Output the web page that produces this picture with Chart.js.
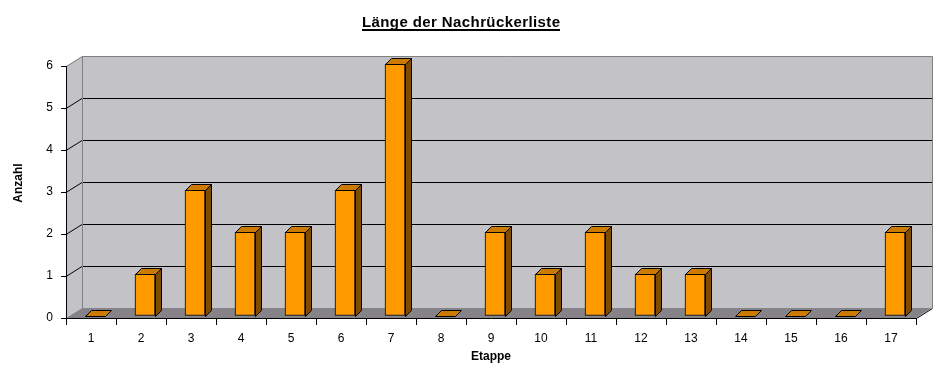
<!DOCTYPE html>
<html>
<head>
<meta charset="utf-8">
<script src="https://cdn.jsdelivr.net/npm/chart.js@4/dist/chart.umd.min.js"></script>
<style>
  html, body { margin: 0; padding: 0; background: #fff; }
  #wrap { width: 944px; height: 372px; }
</style>
</head>
<body>
<div id="wrap"><canvas id="chart" width="944" height="372"></canvas></div>
<script>
const chartTitle = 'Länge der Nachrückerliste';
const xTitle = 'Etappe';
const yTitle = 'Anzahl';
const stages = ['1', '2', '3', '4', '5', '6', '7', '8', '9', '10', '11', '12', '13', '14', '15', '16', '17'];
const counts = [0, 1, 3, 2, 2, 3, 6, 0, 2, 1, 2, 1, 1, 0, 0, 0, 2];
const yTicks = [0, 1, 2, 3, 4, 5, 6];

/* depth of the fake 3d box and of the bars */
const wallDx = 16, wallDy = -10;
const barDepth = 6;
const barShift = { x: 4, y: -2 };

const wallColor = '#c3c2c6';
const floorColor = '#858387';
const edgeColor = '#808080';

/* Draws walls, floor and back gridlines before the axes */
const boxPlugin = {
  id: 'box3d',
  beforeDraw(chart) {
    const { ctx, chartArea: a, scales } = chart;
    const y = scales.y;
    ctx.save();
    // back wall
    ctx.fillStyle = wallColor;
    ctx.fillRect(a.left + wallDx, a.top + wallDy, a.right - a.left, a.bottom - a.top);
    // left wall
    ctx.beginPath();
    ctx.moveTo(a.left, a.bottom);
    ctx.lineTo(a.left, a.top);
    ctx.lineTo(a.left + wallDx, a.top + wallDy);
    ctx.lineTo(a.left + wallDx, a.bottom + wallDy);
    ctx.closePath();
    ctx.fill();
    // floor
    ctx.fillStyle = floorColor;
    ctx.beginPath();
    ctx.moveTo(a.left, a.bottom);
    ctx.lineTo(a.left + wallDx, a.bottom + wallDy);
    ctx.lineTo(a.right + wallDx, a.bottom + wallDy);
    ctx.lineTo(a.right, a.bottom);
    ctx.closePath();
    ctx.fill();

    ctx.lineWidth = 1;
    // gridlines on back + left wall
    ctx.strokeStyle = '#000';
    yTicks.forEach(v => {
      if (v === 0 || v === yTicks[yTicks.length - 1]) return;
      const py = Math.round(y.getPixelForValue(v)) + 0.5;
      ctx.beginPath();
      ctx.moveTo(a.left, py);
      ctx.lineTo(a.left + wallDx, py + wallDy);
      ctx.lineTo(a.right + wallDx, py + wallDy);
      ctx.stroke();
    });
    // right floor edge
    ctx.beginPath();
    ctx.moveTo(a.right + 0.5, a.bottom + 0.5);
    ctx.lineTo(a.right + wallDx + 0.5, a.bottom + wallDy + 0.5);
    ctx.stroke();
    // wall borders
    ctx.strokeStyle = edgeColor;
    const l = a.left + wallDx + 0.5, r = a.right + wallDx + 0.5;
    const t = a.top + wallDy + 0.5, b = a.bottom + wallDy + 0.5;
    ctx.beginPath();
    ctx.moveTo(a.left + 0.5, a.top + 0.5);
    ctx.lineTo(l, t);
    ctx.lineTo(r, t);
    ctx.lineTo(r, b);
    ctx.moveTo(l, t);
    ctx.lineTo(l, b);
    ctx.stroke();
    ctx.restore();
  },
  beforeDatasetsDraw(chart) {
    chart.ctx.save();
    chart.ctx.translate(barShift.x, barShift.y);
  },
  afterDatasetsDraw(chart) {
    const { ctx } = chart;
    const meta = chart.getDatasetMeta(0);
    ctx.lineWidth = 1;
    ctx.strokeStyle = '#000';
    meta.data.forEach(bar => {
      const p = bar.getProps(['x', 'y', 'base', 'width'], true);
      const x0 = Math.round(p.x - p.width / 2) + 0.5;
      const x1 = Math.round(p.x + p.width / 2) + 0.5;
      const top = Math.round(p.y) + 0.5;
      const bot = Math.round(p.base) + 0.5;
      // top face
      ctx.fillStyle = '#cc7a00';
      ctx.beginPath();
      ctx.moveTo(x0, top);
      ctx.lineTo(x0 + barDepth, top - barDepth);
      ctx.lineTo(x1 + barDepth, top - barDepth);
      ctx.lineTo(x1, top);
      ctx.closePath();
      ctx.fill();
      ctx.stroke();
      // side face
      if (bot - top > 0.5) {
        ctx.fillStyle = '#804c00';
        ctx.beginPath();
        ctx.moveTo(x1, top);
        ctx.lineTo(x1 + barDepth, top - barDepth);
        ctx.lineTo(x1 + barDepth, bot - barDepth);
        ctx.lineTo(x1, bot);
        ctx.closePath();
        ctx.fill();
        ctx.stroke();
      }
    });
    ctx.restore();
  },
  afterDraw(chart) {
    const { ctx, chartArea: a } = chart;
    ctx.save();
    ctx.fillStyle = '#000';
    // title with underline
    ctx.font = 'bold 15px "Liberation Sans", Arial, sans-serif';
    ctx.letterSpacing = '0.4px';
    ctx.textAlign = 'left';
    ctx.textBaseline = 'alphabetic';
    const w = ctx.measureText(chartTitle).width;
    const tx = Math.round(461 - w / 2);
    ctx.fillText(chartTitle, tx, 27);
    ctx.fillRect(tx, 29, Math.round(w), 2);
    ctx.letterSpacing = '0px';
    // axis titles
    ctx.textAlign = 'center';
    ctx.font = 'bold 12px "Liberation Sans", Arial, sans-serif';
    ctx.textBaseline = 'middle';
    ctx.fillText(xTitle, (a.left + a.right) / 2, 357);
    ctx.translate(19, 183);
    ctx.rotate(-Math.PI / 2);
    ctx.fillText(yTitle, 0, 0);
    ctx.restore();
  }
};

const tickFont = { family: '"Liberation Sans", Arial, sans-serif', size: 12 };

new Chart(document.getElementById('chart'), {
  type: 'bar',
  data: {
    labels: stages,
    datasets: [{
      data: counts,
      backgroundColor: '#ff9900',
      borderColor: '#000',
      borderWidth: 1,
      borderSkipped: false,
      barThickness: 20,
      clip: false
    }]
  },
  options: {
    responsive: false,
    animation: false,
    events: [],
    layout: { padding: { left: 0, right: 28, top: 66, bottom: 0 } },
    plugins: {
      legend: { display: false },
      title: { display: false },
      tooltip: { enabled: false }
    },
    scales: {
      x: {
        grid: { offset: true, drawOnChartArea: false, color: '#000', tickLength: 7 },
        border: { display: true, color: '#000' },
        ticks: { color: '#000', font: tickFont, padding: 6, maxRotation: 0 },
        afterFit: scale => { scale.height = 54; }
      },
      y: {
        min: 0,
        max: 6,
        grid: { drawOnChartArea: false, color: '#000', tickLength: 5 },
        border: { display: true, color: '#000' },
        ticks: { color: '#000', font: tickFont, padding: 8, stepSize: 1 },
        afterFit: scale => { scale.width = 66; }
      }
    }
  },
  plugins: [boxPlugin]
});
</script>
</body>
</html>
